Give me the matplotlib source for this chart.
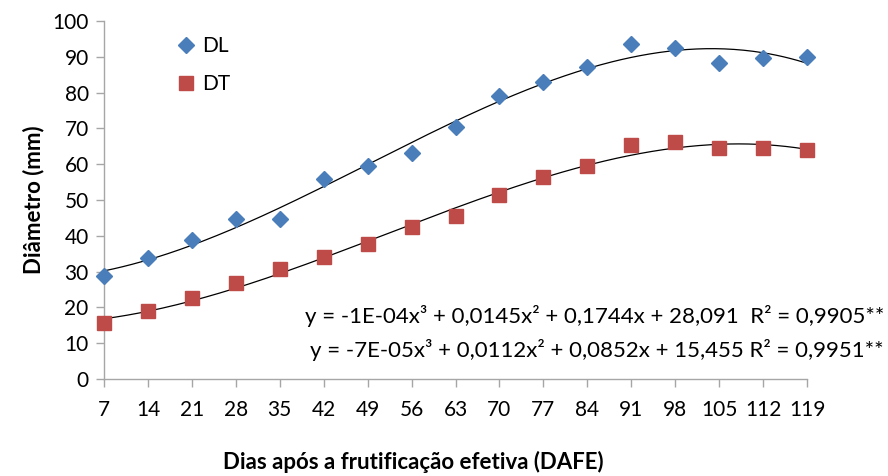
import numpy as np
import matplotlib
matplotlib.use("Agg")
import matplotlib.pyplot as plt

plt.rcParams['font.family'] = ['Lato', 'DejaVu Sans']

days = [7, 14, 21, 28, 35, 42, 49, 56, 63, 70, 77, 84, 91, 98, 105, 112, 119]
dl = [28.8, 33.8, 38.8, 44.7, 44.7, 55.8, 59.5, 63.1, 70.3, 79.0, 83.0, 87.1, 93.7, 92.5, 88.2, 89.7, 90.0]
dt = [15.6, 19.0, 22.5, 26.8, 30.7, 34.1, 37.7, 42.4, 45.5, 51.3, 56.3, 59.5, 65.3, 66.2, 64.6, 64.6, 64.0]
eq_dl = "y = -1E-04x³ + 0,0145x² + 0,1744x + 28,091  R² = 0,9905**"
eq_dt = "y = -7E-05x³ + 0,0112x² + 0,0852x + 15,455 R² = 0,9951**"

blue = '#4A7EBB'
red = '#BE4B48'
axis_gray = '#A6A6A6'

fig = plt.figure(figsize=(8.88, 4.76), dpi=100)
ax = fig.add_axes([104/888, 1-379/476, (807-104)/888, (379-21)/476])

x = np.array(days, dtype=float)
xs = np.linspace(x.min(), x.max(), 300)
for ys in (dl, dt):
    c = np.polyfit(x, ys, 3)
    ax.plot(xs, np.polyval(c, xs), color='black', lw=0.9, zorder=2)

ax.plot(days, dl, linestyle='none', marker='D', markersize=7.8, color=blue,
        markeredgecolor=blue, label='DL', zorder=3, clip_on=False)
ax.plot(days, dt, linestyle='none', marker='s', markersize=9.5, color=red,
        markeredgecolor=red, label='DT', zorder=3, clip_on=False)

ax.set_xlim(7, 119)
ax.set_ylim(0, 100)
ax.set_xticks(days)
ax.set_xticklabels([str(d) for d in days])
ax.set_yticks(range(0, 101, 10))

for s in ('top', 'right'):
    ax.spines[s].set_visible(False)
for s in ('left', 'bottom'):
    ax.spines[s].set_color(axis_gray)
    ax.spines[s].set_linewidth(1.0)
ax.tick_params(axis='both', colors=axis_gray, labelcolor='#000000', labelsize=15,
               length=6, width=1.0, direction='out')
ax.tick_params(axis='x', pad=9)
ax.tick_params(axis='y', pad=5)

ax.set_ylabel('Diâmetro (mm)', fontsize=16, fontweight='bold', labelpad=6)
fig.text(413/888, 1-462/476, 'Dias após a frutificação efetiva (DAFE)', fontsize=16,
         fontweight='bold', ha='center', va='center')

leg = ax.legend(loc='upper left', bbox_to_anchor=(0.072, 1.01), frameon=False,
                fontsize=15, labelspacing=0.85, handletextpad=0.2, handlelength=1.2)

ax.text(884/888, 1-316/476, eq_dl, transform=fig.transFigure, ha='right', va='center', fontsize=16)
ax.text(884/888, 1-350/476, eq_dt, transform=fig.transFigure, ha='right', va='center', fontsize=16)

fig.savefig('out.png', dpi=100)
